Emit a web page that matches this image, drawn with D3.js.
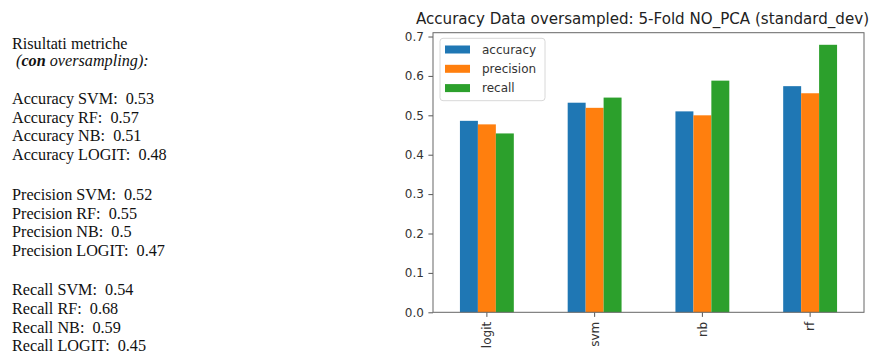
<!DOCTYPE html>
<html>
<head>
<meta charset="utf-8">
<script src="https://cdn.jsdelivr.net/npm/d3@7"></script>
<style>
  html, body { margin: 0; padding: 0; background: #fff; }
  svg { display: block; }
</style>
</head>
<body>
<svg id="chart" width="883" height="354"></svg>
<script>
// ---- data ----
const categories = ["logit", "svm", "nb", "rf"];
const seriesNames = ["accuracy", "precision", "recall"];
const accuracy = [0.486, 0.532, 0.510, 0.574];
const precision = [0.477, 0.519, 0.500, 0.556];
const recall = [0.454, 0.545, 0.588, 0.679];
const yTickValues = [0.0, 0.1, 0.2, 0.3, 0.4, 0.5, 0.6, 0.7];
const chartTitle = "Accuracy Data oversampled: 5-Fold NO_PCA (standard_dev)";

const noteTitle = "Risultati metriche";
const noteModels = ["SVM", "RF", "NB", "LOGIT"];
const noteAccuracy = [0.53, 0.57, 0.51, 0.48];
const notePrecision = [0.52, 0.55, 0.5, 0.47];
const noteRecall = [0.54, 0.68, 0.59, 0.45];

const colors = ["#1f77b4", "#ff7f0e", "#2ca02c"];
const seriesValues = [accuracy, precision, recall];

const svg = d3.select("#chart");

// ---- left text block ----
const serif = "'Liberation Serif', 'Times New Roman', serif";
const note = svg.append("g").attr("font-family", serif).attr("font-size", 16.2).attr("fill", "#111");
note.append("text").attr("x", 12).attr("y", 49.3).text(noteTitle);
const l2 = note.append("text").attr("x", 12).attr("y", 65.5).attr("font-style", "italic").attr("xml:space", "preserve").style("white-space", "pre");
l2.append("tspan").text(" (");
l2.append("tspan").attr("font-weight", "bold").text("con");
l2.append("tspan").text(" oversampling):");

const groups = [
  {label: "Accuracy", vals: noteAccuracy, y0: 104},
  {label: "Precision", vals: notePrecision, y0: 200},
  {label: "Recall", vals: noteRecall, y0: 295.3}
];
groups.forEach(g => {
  g.vals.forEach((v, i) => {
    note.append("text")
      .attr("x", 12)
      .attr("y", g.y0 + i * 18.7)
      .attr("xml:space", "preserve")
      .style("white-space", "pre")
      .text(`${g.label} ${noteModels[i]}:  ${v}`);
  });
});

// ---- chart ----
const pL = 433, pR = 864, pT = 32.7, pB = 312.3;
const sans = "'DejaVu Sans', sans-serif";

const x = d3.scaleBand().domain(categories).range([pL, pR]).paddingInner(0).paddingOuter(0);
const xs = d3.scaleBand().domain(seriesNames)
  .range([-0.25 * x.bandwidth(), 0.25 * x.bandwidth()]);
const y = d3.scaleLinear().domain([0, 0.7097]).range([pB, pT]);

// bars
seriesNames.forEach((s, si) => {
  svg.append("g").attr("fill", colors[si])
    .selectAll("rect")
    .data(categories.map((c, ci) => ({c, v: seriesValues[si][ci]})))
    .join("rect")
    .attr("x", d => x(d.c) + x.bandwidth() / 2 + xs(s))
    .attr("width", xs.bandwidth())
    .attr("y", d => y(d.v))
    .attr("height", d => y(0) - y(d.v));
});

// axes
const yAxis = svg.append("g")
  .attr("transform", `translate(${pL},0)`)
  .call(d3.axisLeft(y).tickValues(yTickValues).tickFormat(d3.format(".1f")).tickSize(4.6).tickPadding(4.5));
const xAxis = svg.append("g")
  .attr("transform", `translate(0,${pB})`)
  .call(d3.axisBottom(x).tickSize(4.6).tickPadding(4.5));

[yAxis, xAxis].forEach(a => {
  a.select(".domain").remove();
  a.selectAll(".tick line").attr("stroke", "#555").attr("stroke-width", 1);
  a.selectAll(".tick text").attr("fill", "#333").attr("font-family", sans).attr("font-size", 12);
});
xAxis.selectAll(".tick text")
  .attr("transform", "rotate(-90)")
  .attr("text-anchor", "end")
  .attr("x", -9.5)
  .attr("y", 0)
  .attr("dy", "0.35em");

// frame
svg.append("rect")
  .attr("x", pL).attr("y", pT)
  .attr("width", pR - pL).attr("height", pB - pT)
  .attr("fill", "none").attr("stroke", "#666").attr("stroke-width", 1);

// title
svg.append("text")
  .attr("x", 642.5).attr("y", 23.5)
  .attr("text-anchor", "middle")
  .attr("font-family", sans).attr("font-size", 15.1).attr("fill", "#222")
  .text(chartTitle);

// legend
const lg = svg.append("g");
lg.append("rect")
  .attr("x", 440).attr("y", 38.3).attr("width", 105).attr("height", 62.4)
  .attr("rx", 3).attr("fill", "#fff").attr("fill-opacity", 0.8)
  .attr("stroke", "#d8d8d8").attr("stroke-width", 1);
seriesNames.forEach((s, i) => {
  const cy = 49.5 + i * 19.3;
  lg.append("rect").attr("x", 445).attr("y", cy - 4).attr("width", 25).attr("height", 8).attr("fill", colors[i]);
  lg.append("text").attr("x", 482).attr("y", cy).attr("dy", "0.35em")
    .attr("font-family", sans).attr("font-size", 12).attr("fill", "#333").text(s);
});
</script>
</body>
</html>
